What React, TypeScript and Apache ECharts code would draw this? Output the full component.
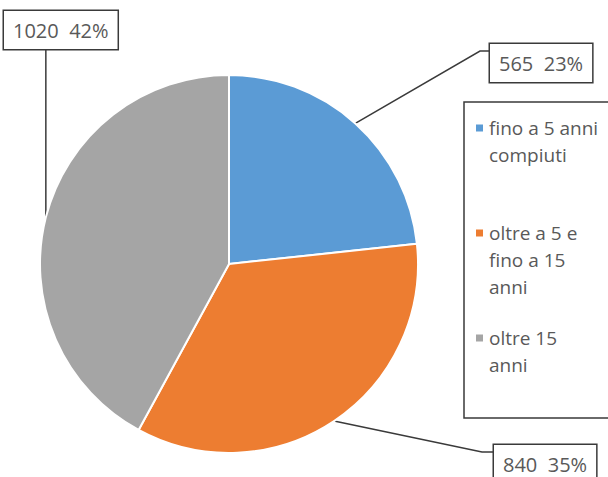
import React, { useEffect, useRef } from "react";
import * as echarts from "echarts";

const categories = ["fino a 5 anni compiuti", "oltre a 5 e fino a 15 anni", "oltre 15 anni"];
const legendLines = ["fino a 5 anni\ncompiuti", "oltre a 5 e\nfino a 15\nanni", "oltre 15\nanni"];
const values = [565, 840, 1020];
const colors = ["#5B9BD5", "#ED7D31", "#A5A5A5"];

const FONT = "'Open Sans', 'Noto Sans', sans-serif";
const LH = 27;

export default function App() {
  const ref = useRef<HTMLDivElement>(null);
  useEffect(() => {
    if (!ref.current) return;
    const chart = echarts.init(ref.current, null, { renderer: "svg" });
    const iconCenters = [128, 233, 338];
    const labelBoxes = [
      { x: 490, y: 44, line: [[480, 51], [490, 51]] },
      { x: 494, y: 445, line: [[482, 452], [494, 452]] },
      { x: 4, y: 11, line: null as any },
    ];
    chart.setOption({
      animation: false,
      backgroundColor: "#ffffff",
      graphic: [
        {
          type: "rect",
          shape: { x: 464, y: 102, width: 200, height: 316 },
          style: { fill: "#ffffff", stroke: "#3a3a3a", lineWidth: 1.5 },
          z: -1,
        },
      ],
      legend: categories.map((name, i) => {
        const n = legendLines[i].split("\n").length;
        return {
          data: [name],
          orient: "vertical",
          left: 474,
          top: iconCenters[i] - (2 * n - 1) * (LH / 2),
          padding: 0,
          itemWidth: 9,
          itemHeight: 9,
          itemGap: 0,
          icon: "rect",
          formatter: () => "\n".repeat(n - 1) + legendLines[i],
          textStyle: {
            fontFamily: FONT,
            fontSize: 19,
            color: "#595959",
            lineHeight: LH,
          },
        };
      }),
      series: [
        {
          type: "pie",
          center: [229, 264],
          radius: 189,
          startAngle: 90,
          clockwise: true,
          avoidLabelOverlap: false,
          itemStyle: { borderColor: "#ffffff", borderWidth: 2 },
          label: {
            show: true,
            position: "outside",
            formatter: (p: any) => `${p.value}  ${Math.round(p.percent)}%`,
            fontFamily: FONT,
            fontSize: 20,
            color: "#595959",
            backgroundColor: "#ffffff",
            borderColor: "#3a3a3a",
            borderWidth: 1.5,
            padding: [8, 9, 8, 9],
            lineHeight: 22,
          },
          labelLine: {
            show: true,
            lineStyle: { color: "#3a3a3a", width: 1.5 },
          },
          labelLayout: (p: any) => {
            const b = labelBoxes[p.dataIndex];
            const start = p.labelLinePoints ? p.labelLinePoints[0] : [0, 0];
            let pts;
            if (b.line) pts = [start, b.line[0], b.line[1]];
            else pts = [start, [start[0], 120], [start[0], 49]];
            return {
              x: b.x,
              y: b.y,
              align: "left",
              verticalAlign: "top",
              labelLinePoints: pts,
            };
          },
          data: categories.map((name, i) => ({
            name,
            value: values[i],
            itemStyle: { color: colors[i] },
          })),
        },
      ],
    });
    return () => chart.dispose();
  }, []);
  return (
    <div
      ref={ref}
      style={{ position: "fixed", left: 0, top: 0, width: 608, height: 477 }}
    />
  );
}
